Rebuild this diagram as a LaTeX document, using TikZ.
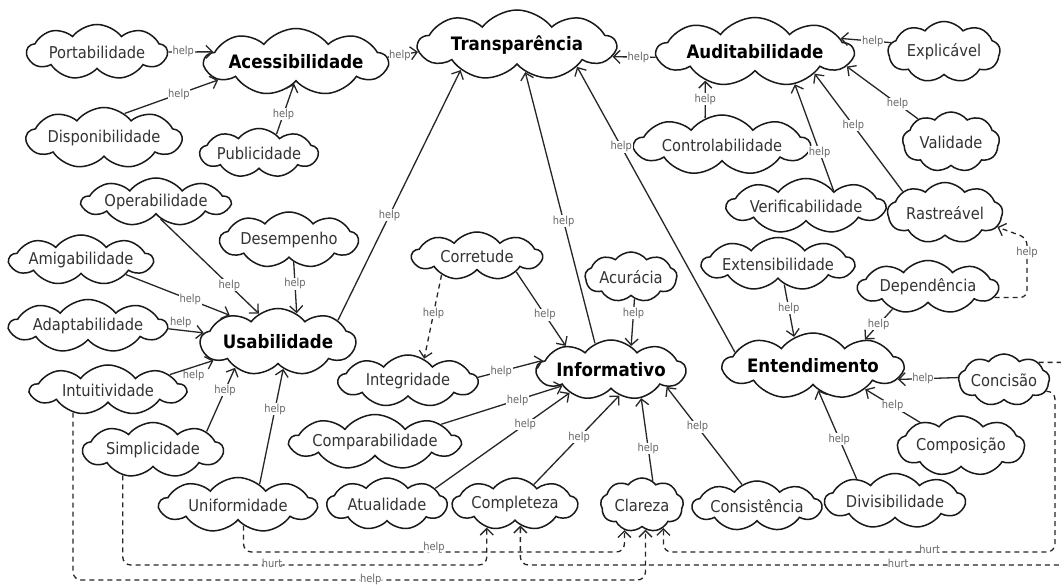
\documentclass[tikz,border=0pt]{standalone}
\usepackage{fontspec}
\setmainfont{DejaVu Sans}[FakeStretch=0.9]
\usetikzlibrary{shapes.symbols,arrows.meta,calc}
\newcommand\regf{\fontsize{16.3}{18}\selectfont}
\newcommand\bldf{\fontsize{18.5}{20}\selectfont\bfseries}
\newcommand\lblf{\fontsize{11}{12}\selectfont}
\tikzset{
  cl/.style={cloud, cloud puffs=9, cloud puff arc=105, cloud ignores aspect,
    draw=black!90, line width=1.5pt, fill=white, inner sep=0pt, font=\regf, text=black!80},
  clb/.style={cl, font=\bldf, text=black},
  sz/.style 2 args={minimum width=#1pt, minimum height=#2pt},
  hp/.style={draw=black!85, line width=1.3pt, -{Straight Barb[length=6.5pt,width=13pt]}},
  hd/.style={hp, dash pattern=on 5pt off 4pt},
  lbl/.style={font=\lblf, text=black!60, fill=white, inner sep=0.6pt},
}
\begin{document}
\begin{tikzpicture}[x=1pt,y=-1pt]
\fill[white] (0,0) rectangle (1061,585);
\useasboundingbox (0,0) rectangle (1061,585);
% nodes
\node[cl,sz={140}{55}]  (port)  at (97,52)   {Portabilidade};
\node[clb,sz={183}{67}] (acc)   at (296,62)  {Acessibilidade};
\node[clb,sz={197}{70}] (trans) at (517,45)  {Transparência};
\node[clb,sz={196}{69}] (aud)   at (755,52)  {Auditabilidade};
\node[cl,sz={112}{61}]  (expl)  at (944,52)  {Explicável};
\node[cl,sz={155}{61}]  (disp)  at (104,138) {Disponibilidade};
\node[cl,sz={118}{49}]  (pub)   at (259,153) {Publicidade};
\node[cl,sz={175}{60}]  (ctrl)  at (722,145) {Controlabilidade};
\node[cl,sz={97}{60}]   (val)   at (951,142) {Validade};
\node[cl,sz={158}{55}]  (verif) at (806,206) {Verificabilidade};
\node[cl,sz={115}{61}]  (rast)  at (945,213) {Rastreável};
\node[cl,sz={148}{48}]  (oper)  at (156,202) {Operabilidade};
\node[cl,sz={138}{56}]  (desemp) at (289,240) {Desempenho};
\node[cl,sz={142}{50}]  (amig)  at (81,260)  {Amigabilidade};
\node[cl,sz={157}{53}]  (adapt) at (88,326)  {Adaptabilidade};
\node[clb,sz={155}{67}] (usab)  at (278,342) {Usabilidade};
\node[cl,sz={155}{50}]  (intu)  at (108,390) {Intuitividade};
\node[cl,sz={140}{55}]  (simp)  at (153,450) {Simplicidade};
\node[cl,sz={157}{55}]  (unif)  at (238,505) {Uniformidade};
\node[cl,sz={130}{48}]  (corr)  at (477,256) {Corretude};
\node[cl,sz={92}{50}]   (acur)  at (631,277) {Acurácia};
\node[cl,sz={139}{52}]  (integ) at (408,381) {Integridade};
\node[clb,sz={148}{60}] (inf)   at (611,370) {Informativo};
\node[cl,sz={165}{55}]  (compa) at (375,442) {Comparabilidade};
\node[cl,sz={120}{52}]  (atual) at (387,504) {Atualidade};
\node[cl,sz={125}{52}]  (compl) at (515,504) {Completeza};
\node[cl,sz={83}{54}]   (clar)  at (642,505) {Clareza};
\node[cl,sz={129}{50}]  (cons)  at (757,506) {Consistência};
\node[cl,sz={151}{53}]  (ext)   at (778,264) {Extensibilidade};
\node[cl,sz={140}{53}]  (dep)   at (928,287) {Dependência};
\node[clb,sz={180}{66}] (ent)   at (813,366) {Entendimento};
\node[cl,sz={88}{52}]   (conc)  at (1004,380) {Concisão};
\node[cl,sz={127}{60}]  (compo) at (961,446) {Composição};
\node[cl,sz={140}{55}]  (div)   at (895,501) {Divisibilidade};
% helper coordinates
\coordinate (yA) at (0,552);
\coordinate (yB) at (0,565);
\coordinate (yC) at (0,580);
\coordinate (xR) at (1055,0);
\coordinate (xR2) at (1068,0);
\coordinate (dr) at (1027,238);
% Acessibilidade
\draw[hp] (port.0) -- node[lbl,pos=0.33]{help} (acc.173);
\draw[hp] (disp.50) -- node[lbl,pos=0.58]{help} (acc.193);
\draw[hp] (pub.47) -- node[lbl,pos=0.4]{help} (acc.265);
\draw[hp] (acc.3) -- node[lbl,pos=0.4]{help} (trans.184);
% Auditabilidade
\draw[hp] (aud.183) -- node[lbl,pos=0.4]{help} (trans.353);
\draw[hp] (expl.170) -- node[lbl,pos=0.36]{help} (aud.9);
\draw[hp] (val.145) -- node[lbl,pos=0.29]{help} (aud.351);
\draw[hp] (ctrl.122) -- node[lbl,pos=0.5]{help} (aud.210);
\draw[hp] (verif.29) -- node[lbl,pos=0.36]{help} (aud.321);
\draw[hp] (rast.153) -- node[lbl,pos=0.56]{help} (aud.340);
% Transparencia
\draw[hp] (usab.20) -- node[lbl,pos=0.42]{help} (trans.204);
\draw[hp] (inf.121) -- node[lbl,pos=0.45]{help} (trans.287);
\draw[hp] (ent.170) -- node[lbl,pos=0.72]{help} (trans.340);
% Usabilidade
\draw[hp] (oper.285) -- node[lbl,pos=0.7]{help} (usab.124);
\draw[hp] (desemp.282) -- node[lbl,pos=0.42]{help} (usab.57);
\draw[hp] (amig.342) -- node[lbl,pos=0.62]{help} (usab.151);
\draw[hp] (adapt.358) -- node[lbl,pos=0.35,above=1pt,fill=none]{help} (usab.173);
\draw[hp] (intu.14) -- node[lbl,pos=0.5,below=1pt,xshift=2pt,fill=none]{help} (usab.196);
\draw[hp] (simp.19) -- node[lbl,pos=0.65]{help} (usab.211);
\draw[hp] (unif.44) -- node[lbl,pos=0.65]{help} (usab.281);
% Informativo
\draw[hp] (corr.338) -- node[lbl,pos=0.58]{help} (inf.152);
\draw[hp] (acur.279) -- node[lbl,pos=0.3]{help} (inf.50);
\draw[hp] (integ.3) -- node[lbl,pos=0.36]{help} (inf.172);
\draw[hp] (compa.15) -- node[lbl,pos=0.63]{help} (inf.198);
\draw[hp] (atual.18) -- node[lbl,pos=0.67]{help} (inf.209);
\draw[hp] (compl.46) -- node[lbl,pos=0.53]{help} (inf.288);
\draw[hp] (clar.66) -- node[lbl,pos=0.39]{help} (inf.317);
\draw[hp] (cons.125) -- node[lbl,pos=0.59]{help} (inf.343);
\draw[hd] (corr.208) -- node[lbl,pos=0.46]{help} (integ.54);
% Entendimento
\draw[hp] (ext.287) -- node[lbl,pos=0.45]{help} (ent.123);
\draw[hp] (dep.212) -- node[lbl,pos=0.5]{help} (ent.27);
\draw[hp] (conc.177) -- node[lbl,pos=0.58]{help} (ent.351);
\draw[hp] (compo.150) -- node[lbl,pos=0.5]{help} (ent.336);
\draw[hp] (div.150) -- node[lbl,pos=0.45]{help} (ent.282);
\draw[hd,rounded corners=7pt] (dep.351) -| (dr) -- node[lbl,pos=0.0,below=8pt]{help} (rast.345);
% bottom dashed routes
\draw[hd,rounded corners=8pt] (unif.285) -- (unif.285 |- yA) -- node[lbl,pos=0.5,yshift=5pt]{help} (clar.235 |- yA) -- (clar.235);
\draw[hd,rounded corners=8pt] (simp.220) -- (simp.220 |- yB) -- node[lbl,pos=0.41,yshift=2pt]{hurt} (compl.220 |- yB) -- (compl.220);
\draw[hd,rounded corners=8pt] (intu.213) -- (intu.213 |- yC) -- node[lbl,pos=0.52,yshift=1pt]{help} (clar.278 |- yC) -- (clar.278);
\draw[hd,rounded corners=8pt] (conc.345) -| (xR |- yA) -- node[lbl,pos=0.32,yshift=3pt]{hurt} (clar.313 |- yA) -- (clar.313);
\draw[hd,rounded corners=8pt] (conc.27) -| (xR2 |- yB) -- node[lbl,pos=0.31,yshift=2pt]{hurt} (compl.284 |- yB) -- (compl.284);
\end{tikzpicture}
\end{document}
